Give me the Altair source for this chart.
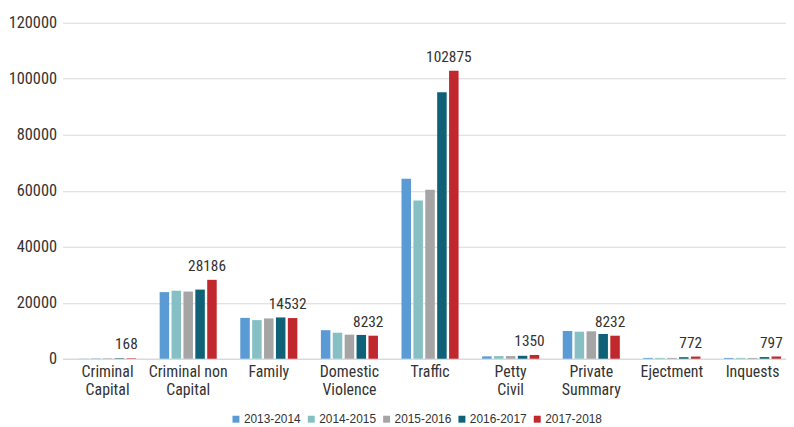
import altair as alt
import pandas as pd

categories = ["Criminal Capital", "Criminal non Capital", "Family", "Domestic Violence",
              "Traffic", "Petty Civil", "Private Summary", "Ejectment", "Inquests"]
years = ["2013-2014", "2014-2015", "2015-2016", "2016-2017", "2017-2018"]
colors = ["#5B9BD5", "#86C0C5", "#A5A5A5", "#0F6178", "#C0282E"]

v2013 = [60, 23800, 14600, 10200, 64300, 850, 9900, 300, 300]
v2014 = [150, 24300, 13800, 9300, 56500, 950, 9650, 300, 300]
v2015 = [150, 24000, 14400, 8600, 60400, 950, 9800, 300, 300]
v2016 = [160, 24700, 14750, 8500, 95200, 1050, 8850, 550, 600]
v2017 = [168, 28186, 14532, 8232, 102875, 1350, 8232, 772, 797]

y_ticks = [0, 20000, 40000, 60000, 80000, 100000, 120000]

rows = []
for series, yr in zip([v2013, v2014, v2015, v2016, v2017], years):
    for c, v in zip(categories, series):
        rows.append({"category": c, "year": yr, "value": v})
df = pd.DataFrame(rows)

FONT = "Roboto Condensed, Liberation Sans Narrow, Arial Narrow, sans-serif"

x = alt.X("category:N", sort=categories,
          scale=alt.Scale(domain=categories, paddingInner=0.292, paddingOuter=0.133, align=0.77),
          axis=alt.Axis(title=None, labelAngle=0, ticks=False, domain=True, domainColor="#d9d9d9",
                        labelFont=FONT, labelFontSize=16, labelColor="#333333", labelPadding=5,
                        labelLineHeight=18, labelBound=False,
                        labelExpr="lastindexof(datum.label, ' ') > 0 ? [substring(datum.label, 0, lastindexof(datum.label, ' ')), substring(datum.label, lastindexof(datum.label, ' ') + 1)] : datum.label"))
xo = alt.XOffset("year:N", sort=years,
                 scale=alt.Scale(domain=years, paddingInner=0.2, paddingOuter=0))
y = alt.Y("value:Q", scale=alt.Scale(domain=[0, 120000], nice=False),
          axis=alt.Axis(title=None, values=y_ticks, format="d", domain=False, ticks=False,
                        gridColor="#d9d9d9", labelFont=FONT, labelFontSize=16.5,
                        labelColor="#333333", labelPadding=6))

bars = alt.Chart(df).mark_bar().encode(
    x=x, xOffset=xo, y=y,
    color=alt.Color("year:N", sort=years,
                    scale=alt.Scale(domain=years, range=colors),
                    legend=alt.Legend(title=None, orient="none", direction="horizontal",
                                      legendX=169, legendY=394, symbolType="square",
                                      symbolSize=49, symbolStrokeWidth=0,
                                      labelFont="Liberation Sans, Arial, sans-serif",
                                      labelFontSize=12, labelColor="#333333",
                                      labelOffset=2, columnPadding=4))
)

labels = alt.Chart(df).transform_filter(
    alt.datum.year == "2017-2018"
).mark_text(baseline="bottom", dy=-6, dx=-5, font=FONT, fontSize=15.5, color="#333333").encode(
    x=x, xOffset=xo, y=y, text=alt.Text("value:Q", format="d")
)

chart = alt.layer(bars, labels).properties(
    width=730, height=339,
    autosize=alt.AutoSizeParams(type="none"),
    padding={"left": 55, "top": 13, "right": 0, "bottom": 70}
).configure_view(stroke=None).configure_axis(grid=True).configure_axisX(grid=False)

chart.save("out.html", embed_options={"renderer": "svg", "actions": False})
